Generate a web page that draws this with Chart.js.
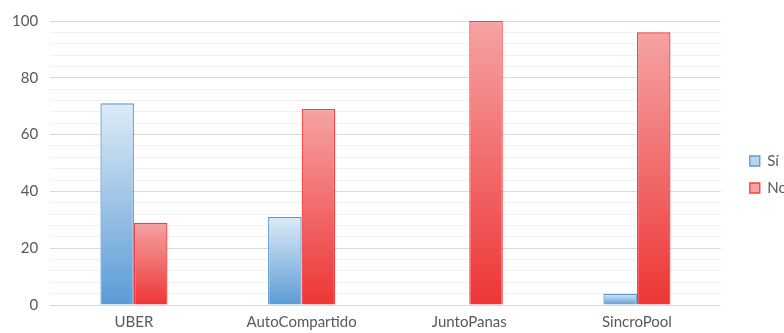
<!DOCTYPE html>
<html>
<head>
<meta charset="utf-8">
<script src="https://cdn.jsdelivr.net/npm/chart.js@4/dist/chart.umd.min.js"></script>
<style>
  html, body { margin: 0; padding: 0; background: #fff; overflow: hidden; }
  .chart-box { width: 800px; height: 333px; }
</style>
</head>
<body>
<div class="chart-box">
  <canvas id="bars"></canvas>
</div>
<script>
const categories = ['UBER', 'AutoCompartido', 'JuntoPanas', 'SincroPool'];
const siValues = [71, 31, 0, 4];
const noValues = [29, 69, 100, 96];
const seriesNames = ['Sí', 'No'];

// light top -> strong bottom, like the office gradient fill
const blueTop = '#deebf7';
const blueBottom = '#5b9bd5';
const redTop = '#f5a3a3';
const redBottom = '#ee3535';

const gradientFill = (top, bottom, solid) => (ctx) => {
  const chart = ctx.chart;
  if (ctx.type !== 'data' || !chart.chartArea) return solid;
  const y = chart.scales.y;
  const yTop = y.getPixelForValue(ctx.parsed.y);
  const yBottom = y.getPixelForValue(0);
  if (yBottom - yTop < 1) return solid;
  const g = chart.ctx.createLinearGradient(0, yTop, 0, yBottom);
  g.addColorStop(0, top);
  g.addColorStop(1, bottom);
  return g;
};

// leave a wider gap between the plot and the legend, nudge it down a bit
const LEGEND_GAP = 20;
const legendGap = {
  id: 'legendGap',
  beforeLayout(chart) {
    const lg = chart.legend;
    if (!lg || lg._gapPatched) return;
    const fit = lg.fit.bind(lg);
    lg.fit = function () {
      fit();
      this.width += LEGEND_GAP;
    };
    lg._gapPatched = true;
  },
  afterLayout(chart) {
    const lg = chart.legend;
    if (!lg) return;
    lg.left += LEGEND_GAP - 3;
    lg.top += 5;
    lg.bottom += 5;
  },
};

const font = { family: 'Lato, "Open Sans", sans-serif', size: 15 };

new Chart(document.getElementById('bars'), {
  type: 'bar',
  data: {
    labels: categories,
    datasets: [
      {
        label: seriesNames[0],
        data: siValues,
        backgroundColor: gradientFill(blueTop, blueBottom, '#8fb8e2'),
        borderColor: '#5b9bd5',
        borderWidth: 1.3,
        borderSkipped: 'bottom',
        categoryPercentage: 0.4,
        barPercentage: 1,
      },
      {
        label: seriesNames[1],
        data: noValues,
        backgroundColor: gradientFill(redTop, redBottom, '#f06a6a'),
        borderColor: '#ff3b3b',
        borderWidth: 1.3,
        borderSkipped: 'bottom',
        categoryPercentage: 0.4,
        barPercentage: 1,
      },
    ],
  },
  plugins: [legendGap],
  options: {
    responsive: true,
    maintainAspectRatio: false,
    animation: false,
    layout: { padding: { top: 0, left: 0, right: 0, bottom: -6 } },
    scales: {
      x: {
        grid: { display: false, drawTicks: false, tickLength: 0 },
        border: { display: false },
        ticks: { color: '#595959', font, padding: 8 },
      },
      y: {
        min: 0,
        max: 100,
        border: { display: false },
        grid: {
          color: (c) => (c.tick && c.tick.value % 20 === 0 ? '#d9d9d9' : '#f0f0f0'),
          lineWidth: 1,
          drawTicks: false,
        },
        ticks: {
          stepSize: 4,
          color: '#595959',
          font,
          padding: 12,
          autoSkip: false,
          callback: (v) => (v % 20 === 0 ? v : ''),
        },
      },
    },
    plugins: {
      legend: {
        position: 'right',
        labels: {
          color: '#595959',
          font,
          boxWidth: 10,
          boxHeight: 10,
          padding: 12,
        },
      },
      tooltip: { enabled: false },
    },
  },
});
</script>
</body>
</html>
